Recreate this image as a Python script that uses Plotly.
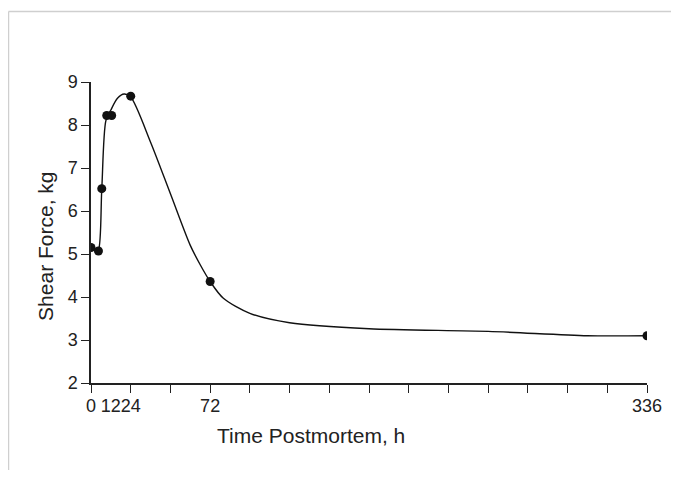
import plotly.graph_objects as go

# Measured points (time postmortem in h, shear force in kg)
point_hours = [0, 4.5, 6.5, 9.5, 12.5, 24, 72, 336]
point_force = [5.15, 5.07, 6.52, 8.22, 8.22, 8.67, 4.36, 3.1]

# Smooth fitted curve
curve_hours = [0, 3, 4.5, 6.5, 9, 12, 16, 20, 24, 36, 48, 60, 66, 72, 80, 96, 120, 168, 240, 300, 336]
curve_force = [5.15, 5.08, 5.1, 6.5, 8.1, 8.35, 8.62, 8.72, 8.65, 7.6, 6.4, 5.2, 4.75, 4.36, 3.97, 3.62, 3.4, 3.26, 3.2, 3.1, 3.1]

x_tick_minor = [0, 24, 48, 72, 96, 120, 144, 168, 192, 216, 240, 264, 288, 312, 336]
x_label_vals = [0, 12, 24, 72, 336]
x_label_text = ["0", "12", "24", "72", "336"]
y_ticks = [2, 3, 4, 5, 6, 7, 8, 9]

TICK_FONT = dict(family="Liberation Sans, Arial, sans-serif", size=18, color="#222")
TITLE_FONT = dict(family="Liberation Sans Narrow, Arial Narrow, Liberation Sans, sans-serif", size=21, color="#222")

fig = go.Figure()
fig.add_trace(go.Scatter(
    x=curve_hours, y=curve_force, mode="lines",
    line=dict(color="#111", width=1.4, shape="spline", smoothing=0.8),
    hoverinfo="skip", showlegend=False))
fig.add_trace(go.Scatter(
    x=point_hours, y=point_force, mode="markers",
    marker=dict(color="#111", size=9), showlegend=False))
# invisible trace to activate xaxis2 (labels)
fig.add_trace(go.Scatter(x=[0, 336], y=[2, 2], xaxis="x2", mode="markers",
                         marker=dict(opacity=0), hoverinfo="skip", showlegend=False))

fig.update_layout(
    width=663, height=462,
    margin=dict(l=83, r=24, t=74, b=87),
    paper_bgcolor="white", plot_bgcolor="white",
    xaxis=dict(range=[0, 336], tickmode="array", tickvals=x_tick_minor,
               showticklabels=False, ticks="outside", ticklen=8, tickwidth=1.3,
               tickcolor="#222", showline=True, linecolor="#222", linewidth=1.5,
               showgrid=False, zeroline=False, automargin=False),
    xaxis2=dict(range=[0, 336], overlaying="x", side="bottom", matches="x",
                tickmode="array", tickvals=x_label_vals, ticktext=x_label_text,
                ticks="", tickfont=TICK_FONT, tickangle=0, showline=False, showgrid=False,
                zeroline=False, ticklabelstandoff=10, automargin=False),
    yaxis=dict(range=[2, 9], tickmode="array", tickvals=y_ticks,
               ticks="outside", ticklen=8, tickwidth=1.3, tickcolor="#222",
               tickfont=TICK_FONT, showline=True, linecolor="#222", linewidth=1.5,
               showgrid=False, zeroline=False, automargin=False),
    annotations=[
        dict(text="Time Postmortem, h", xref="paper", yref="paper",
             x=0.396, y=-0.13, xanchor="center", yanchor="top",
             showarrow=False, font=TITLE_FONT),
        dict(text="Shear Force, kg", xref="paper", yref="paper",
             x=-0.083, y=0.455, xanchor="center", yanchor="middle",
             textangle=-90, showarrow=False, font=TITLE_FONT),
    ],
    shapes=[
        dict(type="line", xref="paper", yref="paper",
             x0=-0.1484, x1=1.1, y0=1.234, y1=1.234,
             line=dict(color="#cfcfcf", width=1.5), layer="below"),
        dict(type="line", xref="paper", yref="paper",
             x0=-0.1484, x1=-0.1484, y0=1.234, y1=-0.35,
             line=dict(color="#cfcfcf", width=1.5), layer="below"),
    ],
)

fig.write_html("out.html")
